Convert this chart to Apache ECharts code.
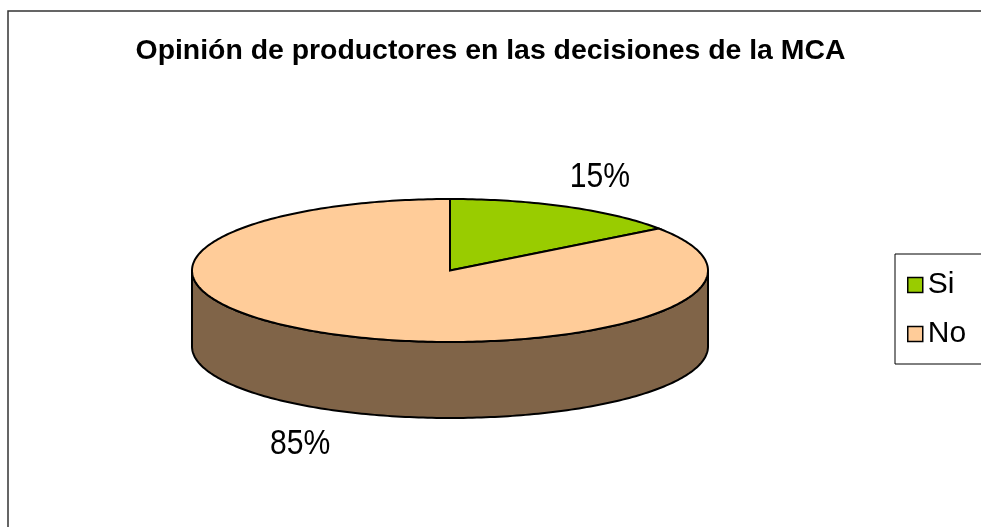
<!DOCTYPE html>
<html>
<head>
<meta charset="utf-8">
<script src="https://cdn.jsdelivr.net/npm/echarts@6/dist/echarts.min.js"></script>
<style>
  html, body { margin: 0; padding: 0; background: #fff; }
  #chart { width: 981px; height: 527px; }
</style>
</head>
<body>
<div id="chart"></div>
<script>
// data
const categories = ['Si', 'No'];
const values = [15, 85];
const labels = ['15%', '85%'];
const colors = ['#99CC00', '#FFCC99'];
const sideColors = ['#4D6600', '#806448'];

// pie layout (ellipse, pixels)
const CX = 450;
const CY = 270.5;
const RX = 258;
const RY = 71.5;
const DEPTH = 76;

const total = values.reduce((a, b) => a + b, 0);
const starts = values.map((v, i) => values.slice(0, i).reduce((a, b) => a + b, 0) / total * 360);
const ends = values.map((v, i) => starts[i] + v / total * 360);

function pt(deg, kx, ky, dy) {
  const r = deg * Math.PI / 180;
  return [CX + RX * kx * Math.sin(r), CY - RY * ky * Math.cos(r) + dy];
}

function arc(a0, a1, dy) {
  const pts = [];
  const n = Math.max(2, Math.ceil(Math.abs(a1 - a0)));
  for (let k = 0; k <= n; k++) {
    pts.push(pt(a0 + (a1 - a0) * k / n, 1, 1, dy));
  }
  return pts;
}

// front side wall of each slice
const sideSeries = {
  type: 'custom',
  name: 'side',
  coordinateSystem: 'none',
  silent: true,
  data: values,
  renderItem: (params) => {
    const i = params.dataIndex;
    const s = Math.max(starts[i], 90);
    const e = Math.min(ends[i], 270);
    if (s >= e) return { type: 'group', children: [] };
    const points = arc(s, e, 0).concat(arc(e, s, DEPTH));
    return {
      type: 'polygon',
      shape: { points },
      style: { fill: sideColors[i], stroke: '#000', lineWidth: 2 },
    };
  },
};

// top face + label, one series per category (drives the legend)
const topSeries = categories.map((name, j) => ({
  type: 'custom',
  name,
  coordinateSystem: 'none',
  silent: true,
  itemStyle: { color: colors[j] },
  data: [values[j]],
  renderItem: () => {
    const a0 = starts[j];
    const a1 = ends[j];
    const points = [[CX, CY]].concat(arc(a0, a1, 0));
    const mid = (a0 + a1) / 2;
    const lower = Math.cos(mid * Math.PI / 180) < 0;
    const lp = pt(mid, 1.28, 1.5, lower ? DEPTH : 0);
    return {
      type: 'group',
      children: [
        {
          type: 'polygon',
          shape: { points },
          style: { fill: colors[j], stroke: '#000', lineWidth: 2 },
        },
        {
          type: 'text',
          x: lp[0],
          y: lp[1] + 2,
          scaleX: 0.86,
          style: {
            text: labels[j],
            x: 0,
            y: 0,
            fontSize: 35,
            fontFamily: 'Liberation Sans, Arial, sans-serif',
            fill: '#000',
            align: 'center',
            verticalAlign: 'middle',
          },
        },
      ],
    };
  },
}));

const chart = echarts.init(document.getElementById('chart'));
chart.setOption({
  animation: false,
  backgroundColor: '#fff',
  title: {
    text: 'Opinión de productores en las decisiones de la MCA',
    left: 'center',
    top: 37,
    padding: 0,
    textStyle: {
      fontFamily: 'Liberation Sans, Arial, sans-serif',
      fontWeight: 'bold',
      fontSize: 28.4,
      color: '#000',
    },
  },
  legend: {
    data: categories,
    orient: 'vertical',
    left: 895,
    top: 254,
    padding: [16, 40, 15, 12],
    itemGap: 19,
    itemWidth: 15,
    itemHeight: 15,
    icon: 'rect',
    backgroundColor: '#fff',
    borderColor: '#000',
    borderWidth: 1,
    borderRadius: 0,
    selectedMode: false,
    itemStyle: { borderColor: '#000', borderWidth: 1.5 },
    textStyle: {
      fontFamily: 'Liberation Sans, Arial, sans-serif',
      fontSize: 30,
      color: '#000',
    },
  },
  graphic: [
    {
      type: 'rect',
      z: -10,
      shape: { x: 8, y: 11, width: 1100, height: 700 },
      style: { fill: 'none', stroke: '#333', lineWidth: 1.5 },
    },
  ],
  series: [sideSeries].concat(topSeries),
});
</script>
</body>
</html>
